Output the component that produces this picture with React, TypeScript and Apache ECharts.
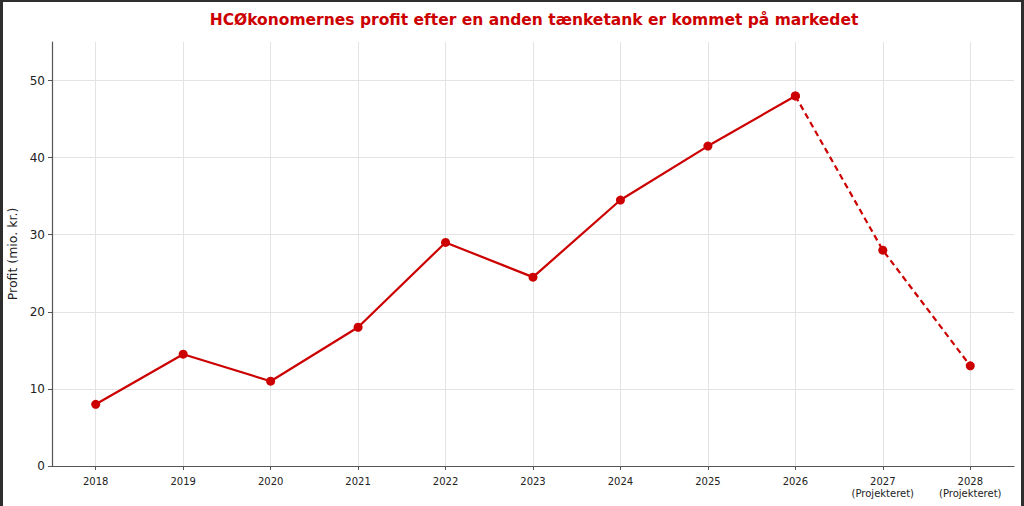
import React, { useEffect, useRef } from "react";
import * as echarts from "echarts";

const titleText = "HCØkonomernes profit efter en anden tænketank er kommet på markedet";
const yAxisName = "Profit (mio. kr.)";
const categories = ["2018", "2019", "2020", "2021", "2022", "2023", "2024", "2025", "2026", "2027\n(Projekteret)", "2028\n(Projekteret)"];
const actualValues = [8, 14.5, 11, 18, 29, 24.5, 34.5, 41.5, 48, null, null];
const projectedValues = [null, null, null, null, null, null, null, null, 48, 28, 13];
const yTickValues = [0, 10, 20, 30, 40, 50];
const yMin = 0;
const yMax = 55;
const yInterval = 10;

const RED = "#cc0000";
const FONT = "DejaVu Sans";

export default function App() {
  const ref = useRef<HTMLDivElement>(null);

  useEffect(() => {
    document.body.style.margin = "0";
    if (!ref.current) return;
    const chart = echarts.init(ref.current, null, { renderer: "svg" });
    chart.setOption({
      animation: false,
      backgroundColor: "#ffffff",
      title: {
        text: titleText,
        left: 526,
        textAlign: "center",
        top: 5,
        textStyle: { color: RED, fontFamily: FONT, fontSize: 15.5, fontWeight: "bold" },
      },
      grid: { left: 49, right: 7, top: 40, bottom: 40, containLabel: false, outerBoundsMode: "none" },
      xAxis: {
        type: "category",
        data: categories,
        boundaryGap: true,
        axisLine: { show: true, lineStyle: { color: "#555555", width: 1.2 } },
        axisTick: { show: true, alignWithLabel: true, length: 4, lineStyle: { color: "#555555" } },
        axisLabel: { color: "#222222", fontFamily: FONT, fontSize: 10, margin: 9, lineHeight: 12, interval: 0 },
        splitLine: { show: true, alignWithLabel: true, lineStyle: { color: "#e3e3e3", width: 1 } },
      },
      yAxis: {
        type: "value",
        min: yMin,
        max: yMax,
        interval: yInterval,
        name: yAxisName,
        nameLocation: "middle",
        nameGap: 26,
        nameTextStyle: { color: "#222222", fontFamily: FONT, fontSize: 12.5 },
        axisLine: { show: true, lineStyle: { color: "#555555", width: 1.2 } },
        axisTick: { show: true, length: 4, lineStyle: { color: "#555555" }, customValues: yTickValues },
        axisLabel: { color: "#222222", fontFamily: FONT, fontSize: 12, margin: 7, customValues: yTickValues },
        splitLine: { show: true, lineStyle: { color: "#e3e3e3", width: 1 } },
      },
      series: [
        {
          type: "line",
          data: actualValues,
          connectNulls: false,
          symbol: "circle",
          symbolSize: 9,
          lineStyle: { color: RED, width: 2.2 },
          itemStyle: { color: RED },
          z: 3,
        },
        {
          type: "line",
          data: projectedValues,
          connectNulls: false,
          symbol: "circle",
          symbolSize: 9,
          lineStyle: { color: RED, width: 2.2, type: [6, 4] },
          itemStyle: { color: RED },
          z: 2,
        },
      ],
    });
    return () => chart.dispose();
  }, []);

  return (
    <div
      style={{
        width: 1024,
        height: 506,
        boxSizing: "border-box",
        borderLeft: "3px solid #2e2e2e",
        borderTop: "2px solid #2e2e2e",
        borderRight: "3px solid #2e2e2e",
        background: "#ffffff",
        overflow: "hidden",
      }}
    >
      <div ref={ref} style={{ width: 1018, height: 504 }} />
    </div>
  );
}
